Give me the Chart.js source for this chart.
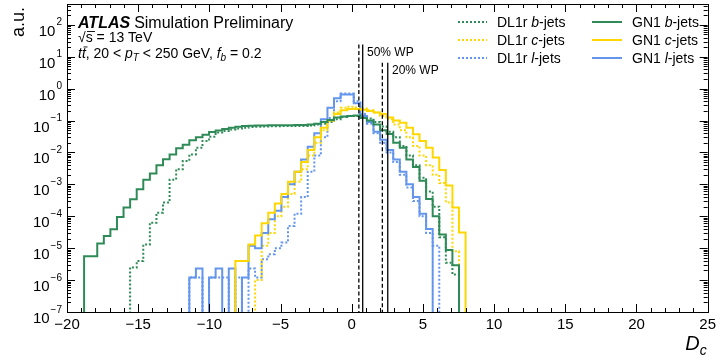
<!DOCTYPE html>
<html>
<head>
<meta charset="utf-8">
<script src="https://cdn.jsdelivr.net/npm/chart.js@4.4.1/dist/chart.umd.min.js"></script>
<style>
  body { margin: 0; background: #fff; }
  #wrap { width: 720px; height: 360px; }
</style>
</head>
<body>
<div id="wrap"><canvas id="dc-chart" width="720" height="360"></canvas></div>
<script>
"use strict";

// histogram binning (58 equal bins)
const binLo = -18.8;
const binWidth = 0.462;
const nBins = 58;

// bin contents (0 = empty bin)
const gn1B = [5.6e-6, 5.6e-6, 1.4e-5, 2.4e-5, 3.9e-5, 9.5e-5, 1.9e-4, 3.4e-4, 7e-4, 1.4e-3,
  2.2e-3, 4e-3, 6.1e-3, 8.7e-3, 1.35e-2, 1.75e-2, 2.4e-2, 3e-2, 3.6e-2, 4.4e-2,
  4.9e-2, 5.4e-2, 6e-2, 6.4e-2, 6.7e-2, 6.9e-2, 7e-2, 7e-2, 7.1e-2, 7.1e-2,
  7.1e-2, 7.1e-2, 7.2e-2, 7.3e-2, 7.5e-2, 8e-2, 9e-2, 1.05e-1, 1.25e-1, 1.35e-1,
  1.4e-1, 1.45e-1, 1.2e-1, 1e-1, 7.5e-2, 5e-2, 3.8e-2, 2e-2, 1.4e-2, 6e-3,
  3.5e-3, 1.3e-3, 3.5e-4, 1e-4, 2.7e-5, 8.7e-6, 2.9e-6, 0];
const gn1C = [0, 0, 0, 0, 0, 0, 0, 0, 0, 0,
  0, 0, 0, 0, 0, 0, 0, 0, 0, 0,
  0, 0, 0, 4e-6, 4e-6, 1.3e-5, 2.5e-5, 6e-5, 1.3e-4, 2.5e-4,
  5e-4, 1.2e-3, 2.5e-3, 5e-3, 1.2e-2, 3e-2, 6e-2, 1e-1, 1.6e-1, 2.1e-1,
  2.3e-1, 2.3e-1, 2.2e-1, 2e-1, 1.8e-1, 1.6e-1, 1.25e-1, 1e-1, 8.5e-2, 6e-2,
  3.7e-2, 2.3e-2, 1.4e-2, 6.9e-3, 2.8e-3, 9.3e-4, 1.9e-4, 3.1e-5];
const gn1L = [0, 0, 0, 0, 0, 0, 0, 0, 0, 0,
  0, 0, 0, 0, 0, 0, 1.2e-6, 2.3e-6, 0, 1.2e-6,
  2.3e-6, 0, 2.3e-6, 0, 1.2e-6, 1.2e-5, 1e-5, 3e-5, 8e-5, 1.5e-4,
  4e-4, 1e-3, 2.5e-3, 6e-3, 1.5e-2, 4e-2, 1.1e-1, 2.5e-1, 5e-1, 6.5e-1,
  6.5e-1, 3.5e-1, 1.4e-1, 9e-2, 4.5e-2, 2.5e-2, 1.2e-2, 6e-3, 2.5e-3, 1e-3,
  4e-4, 1.2e-4, 4e-5, 0, 0, 0, 0, 0];
const dl1rB = [0, 0, 0, 0, 0, 0, 0, 2.5e-6, 4e-6, 1.3e-5,
  6.3e-5, 1.3e-4, 2.7e-4, 1.4e-3, 3e-3, 5.4e-3, 8.7e-3, 1.4e-2, 2.3e-2, 3.1e-2,
  4.2e-2, 4.7e-2, 5.2e-2, 5.6e-2, 6e-2, 6.3e-2, 6.4e-2, 6.5e-2, 6.6e-2, 6.6e-2,
  6.7e-2, 6.7e-2, 6.8e-2, 6.8e-2, 7e-2, 7.5e-2, 8e-2, 9e-2, 1.1e-1, 1.3e-1,
  1.4e-1, 1.4e-1, 1.3e-1, 1.15e-1, 9e-2, 6.5e-2, 4.5e-2, 3e-2, 1.6e-2, 8e-3,
  4e-3, 1.6e-3, 6e-4, 2e-4, 2.2e-5, 3.5e-6, 1.5e-6, 0];
const dl1rC = [0, 0, 0, 0, 0, 0, 0, 0, 0, 0,
  0, 0, 0, 0, 0, 0, 0, 0, 0, 0,
  0, 0, 0, 0, 0, 0, 1e-6, 1.2e-5, 3e-5, 1e-4,
  2e-4, 5e-4, 1.2e-3, 3e-3, 8e-3, 2e-2, 5e-2, 1e-1, 1.8e-1, 2.5e-1,
  2.7e-1, 2.6e-1, 2.4e-1, 2.1e-1, 1.8e-1, 1.4e-1, 1.1e-1, 7.5e-2, 5e-2, 3e-2,
  1.6e-2, 8e-3, 4e-3, 2e-3, 1.1e-3, 2.7e-4, 8e-6, 0];
const dl1rL = [0, 0, 0, 0, 0, 0, 0, 0, 0, 0,
  0, 0, 0, 0, 0, 0, 1.2e-6, 1.2e-6, 0, 1.2e-6,
  1.2e-6, 1.2e-6, 0, 1.2e-6, 0, 2.3e-6, 1.2e-6, 4.5e-6, 6.5e-6, 1e-5,
  1.5e-5, 5e-5, 1.2e-4, 4e-4, 2.5e-3, 8e-3, 3e-2, 1.2e-1, 4e-1, 7e-1,
  7e-1, 4e-1, 1.6e-1, 8e-2, 4e-2, 2e-2, 1e-2, 5e-3, 2e-3, 8e-4,
  3e-4, 1e-4, 3e-5, 1.2e-5, 0, 0, 0, 0];

// working point cuts: x position and top of the line
const wpLines = [
  { x: 0.5, top: 24, dash: true },
  { x: 0.77, top: 24, dash: false },
  { x: 2.15, top: 6.5, dash: true },
  { x: 2.53, top: 6.5, dash: false },
];

const xMin = -20, xMax = 25;
const yMin = 1e-7, yMax = 450;

const green = "#2e8b57", gold = "#ffd700", blue = "#6495ed";

function histPoints(values) {
  // step outline: rise from the axis at the first edge, fall back at the last one
  const floor = 1e-12;
  const pts = [{ x: binLo, y: floor }];
  for (let i = 0; i < nBins; i++) {
    pts.push({ x: binLo + i * binWidth, y: values[i] > 0 ? values[i] : floor });
  }
  pts.push({ x: binLo + nBins * binWidth, y: floor });
  return pts;
}

function histDataset(label, values, color, dotted) {
  return {
    label: label,
    data: histPoints(values),
    borderColor: color,
    borderWidth: 2,
    borderDash: dotted ? [2, 2] : [],
    stepped: "before",
    pointRadius: 0,
    fill: false,
    order: dotted ? 2 : 1,
  };
}

const datasets = [
  histDataset("GN1 b-jets", gn1B, green, false),
  histDataset("GN1 c-jets", gn1C, gold, false),
  histDataset("GN1 l-jets", gn1L, blue, false),
  histDataset("DL1r b-jets", dl1rB, green, true),
  histDataset("DL1r c-jets", dl1rC, gold, true),
  histDataset("DL1r l-jets", dl1rL, blue, true),
];
wpLines.forEach(function (wp) {
  datasets.push({
    label: "WP",
    data: [{ x: wp.x, y: wp.top }, { x: wp.x, y: 1e-12 }],
    borderColor: "#000",
    borderWidth: 1.3,
    borderDash: wp.dash ? [4, 2.5] : [],
    pointRadius: 0,
    order: 0,
  });
});

const FONT = "'Liberation Sans', Arial, Helvetica, sans-serif";

// text with italic pieces: parts = [[text, style, sizePx, dy]]
function drawRich(ctx, x, y, parts) {
  let cx = x;
  parts.forEach(function (p) {
    ctx.font = (p[1] || "") + " " + p[2] + "px " + FONT;
    ctx.fillText(p[0], cx, y + (p[3] || 0));
    cx += ctx.measureText(p[0]).width;
  });
  return cx;
}

const atlasDecor = {
  id: "atlasDecor",
  afterDatasetsDraw(chart) {
    const ctx = chart.ctx;
    const a = chart.chartArea;
    const xs = chart.scales.x, ys = chart.scales.y;
    ctx.save();
    ctx.strokeStyle = "#000";
    ctx.lineWidth = 1;
    ctx.strokeRect(Math.round(a.left) + 0.5, Math.round(a.top) + 0.5,
      Math.round(a.right - a.left), Math.round(a.bottom - a.top));
    ctx.beginPath();
    // x ticks, inside, bottom and top
    for (let v = xMin; v <= xMax; v++) {
      const px = Math.round(xs.getPixelForValue(v)) + 0.5;
      const len = v % 5 === 0 ? 8 : 4;
      ctx.moveTo(px, a.bottom); ctx.lineTo(px, a.bottom - len);
      ctx.moveTo(px, a.top); ctx.lineTo(px, a.top + len);
    }
    // y ticks, inside, left and right
    for (let e = -7; e <= 2; e++) {
      for (let m = 1; m <= 9; m++) {
        const v = m * Math.pow(10, e);
        if (v < yMin || v > yMax) continue;
        const py = Math.round(ys.getPixelForValue(v)) + 0.5;
        const len = m === 1 ? 8 : 4;
        ctx.moveTo(a.left, py); ctx.lineTo(a.left + len, py);
        ctx.moveTo(a.right, py); ctx.lineTo(a.right - len, py);
      }
    }
    ctx.stroke();
    ctx.restore();
  },
  afterDraw(chart) {
    const ctx = chart.ctx;
    const a = chart.chartArea;
    const ys = chart.scales.y;
    ctx.save();
    ctx.fillStyle = "#000";
    ctx.textBaseline = "alphabetic";
    ctx.textAlign = "left";

    // y tick labels 10^n
    for (let e = -7; e <= 2; e++) {
      const py = ys.getPixelForValue(Math.pow(10, e));
      const exp = e < 0 ? "\u2212" + (-e) : String(e);
      ctx.font = "15px " + FONT;
      const w1 = ctx.measureText("10").width;
      ctx.font = "10px " + FONT;
      const w2 = ctx.measureText(exp).width;
      const x0 = a.left - 6 - w1 - w2;
      ctx.font = "15px " + FONT;
      ctx.fillText("10", x0, py + 11);
      ctx.font = "10px " + FONT;
      ctx.fillText(exp, x0 + w1 + 1, py + 0.5);
    }

    // axis titles
    ctx.save();
    ctx.translate(24, a.top);
    ctx.rotate(-Math.PI / 2);
    ctx.textAlign = "right";
    ctx.font = "18px " + FONT;
    ctx.fillText("a.u.", -3, 0);
    ctx.restore();
    ctx.textAlign = "left";
    const xEnd = drawRich(ctx, 0, -100, [["D", "italic", 20], ["c", "italic", 14, 5]]);
    drawRich(ctx, a.right - xEnd - 1, 350, [["D", "italic", 20], ["c", "italic", 14, 5]]);

    // ATLAS label
    const x1 = drawRich(ctx, 78, 28, [["ATLAS", "italic bold", 16]]);
    drawRich(ctx, x1 + 4, 28, [["Simulation Preliminary", "", 16]]);
    drawRich(ctx, 78, 42, [["\u221As", "", 14], [" = 13 TeV", "", 14]]);
    ctx.fillRect(87, 31, 8, 0.9);
    drawRich(ctx, 78, 58, [["t", "italic", 14], ["t", "italic", 14], [", 20 < ", "", 14],
      ["p", "italic", 14], ["T", "italic", 10, 3], [" < 250 GeV, ", "", 14],
      ["f", "italic", 14], ["b", "italic", 10, 3], [" = 0.2", "", 14]]);
    ctx.fillRect(83.5, 46.5, 4, 0.9);

    // WP labels
    ctx.font = "12px " + FONT;
    ctx.fillText("50% WP", 367, 56);
    ctx.fillText("20% WP", 392, 74);

    // legend, two columns
    const rows = [["b", 22], ["c", 40], ["l", 58]];
    const cols = [
      { name: "DL1r", x0: 458, x1: 487, tx: 497, dotted: true },
      { name: "GN1", x0: 592, x1: 622, tx: 632, dotted: false },
    ];
    const colors = { b: green, c: gold, l: blue };
    cols.forEach(function (c) {
      rows.forEach(function (r) {
        ctx.beginPath();
        ctx.strokeStyle = colors[r[0]];
        ctx.lineWidth = 2;
        ctx.setLineDash(c.dotted ? [2, 2] : []);
        ctx.moveTo(c.x0, r[1]);
        ctx.lineTo(c.x1, r[1]);
        ctx.stroke();
        ctx.setLineDash([]);
        drawRich(ctx, c.tx, r[1] + 5, [[c.name + " ", "", 14], [r[0], "italic", 14], ["-jets", "", 14]]);
      });
    });
    ctx.restore();
  },
};

const ctx = document.getElementById("dc-chart").getContext("2d");
const chart = new Chart(ctx, {
  type: "line",
  data: { datasets: datasets },
  options: {
    responsive: false,
    animation: false,
    layout: { padding: { top: 4, right: 9, left: 0, bottom: 0 } },
    plugins: { legend: { display: false }, tooltip: { enabled: false } },
    scales: {
      x: {
        type: "linear",
        min: xMin,
        max: xMax,
        grid: { display: false, drawTicks: false },
        border: { display: false },
        ticks: {
          stepSize: 5,
          padding: 4,
          color: "#000",
          font: { family: FONT, size: 15 },
          maxRotation: 0,
          callback: function (v) { return String(v).replace("-", "\u2212"); },
        },
        afterFit: function (scale) { scale.height = 48; },
      },
      y: {
        type: "logarithmic",
        min: yMin,
        max: yMax,
        grid: { display: false, drawTicks: false },
        border: { display: false },
        ticks: { display: false },
        afterFit: function (scale) { scale.width = 67; },
      },
    },
  },
  plugins: [atlasDecor],
});
</script>
</body>
</html>
